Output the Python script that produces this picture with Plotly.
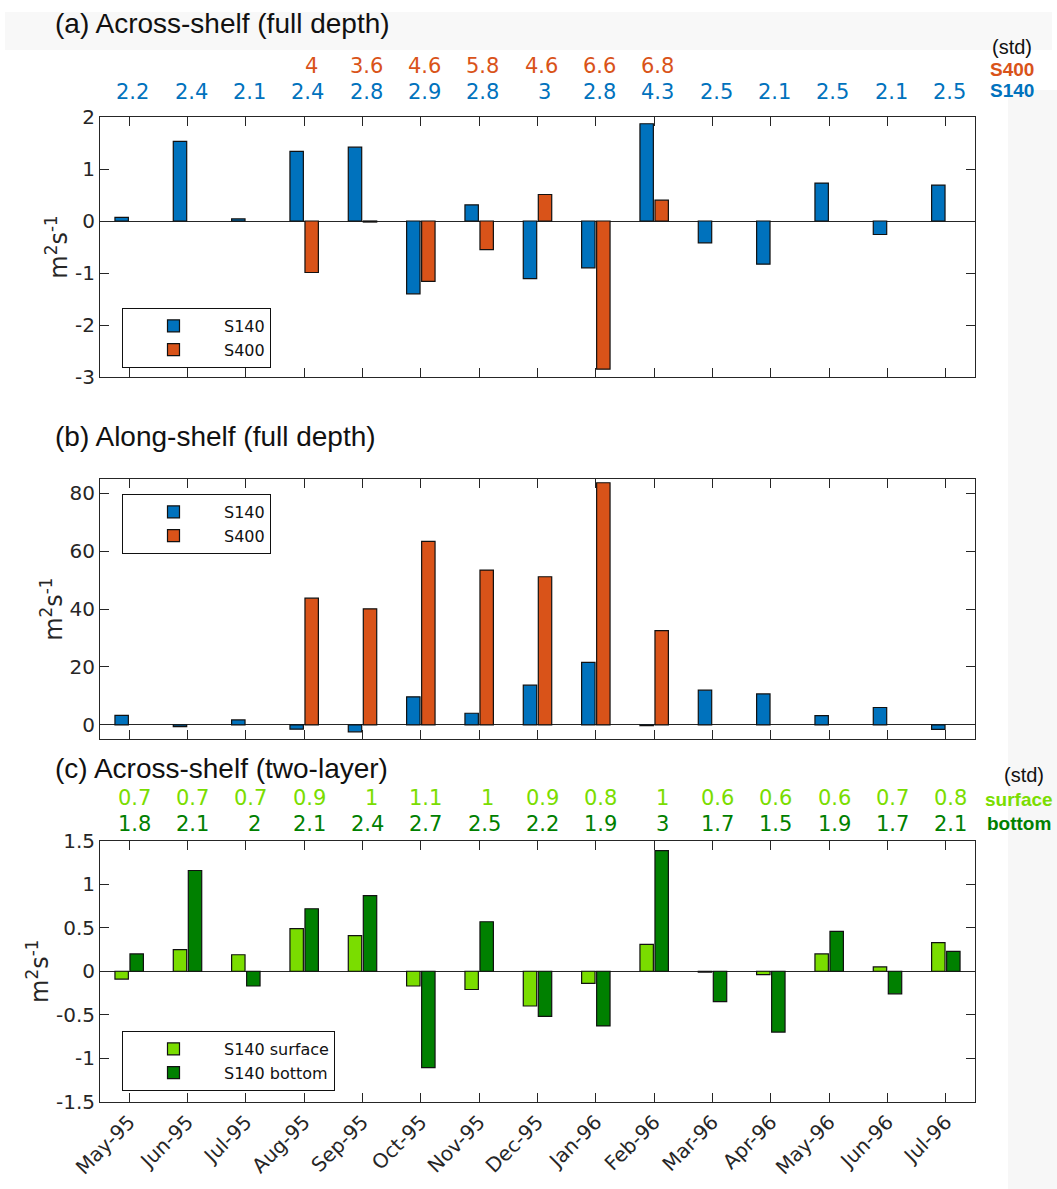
import plotly.graph_objects as go

months = ["May-95", "Jun-95", "Jul-95", "Aug-95", "Sep-95", "Oct-95", "Nov-95", "Dec-95",
          "Jan-96", "Feb-96", "Mar-96", "Apr-96", "May-96", "Jun-96", "Jul-96"]

# (a) across-shelf, full depth
a_s140 = [0.07, 1.53, 0.04, 1.34, 1.42, -1.40, 0.31, -1.11, -0.90, 1.87, -0.42, -0.83, 0.73, -0.26, 0.69]
a_s400 = [None, None, None, -0.99, -0.02, -1.16, -0.55, 0.51, -2.85, 0.40, None, None, None, None, None]
a_std_s140 = [2.2, 2.4, 2.1, 2.4, 2.8, 2.9, 2.8, 3, 2.8, 4.3, 2.5, 2.1, 2.5, 2.1, 2.5]
a_std_s400 = [None, None, None, 4, 3.6, 4.6, 5.8, 4.6, 6.6, 6.8, None, None, None, None, None]

# (b) along-shelf, full depth
b_s140 = [3.3, -0.6, 1.7, -1.5, -2.4, 9.7, 4.0, 13.7, 21.6, -0.3, 12.0, 10.7, 3.2, 6.0, -1.6]
b_s400 = [None, None, None, 43.8, 40.1, 63.4, 53.5, 51.2, 83.7, 32.6, None, None, None, None, None]

# (c) across-shelf, two-layer
c_surf = [-0.09, 0.25, 0.19, 0.49, 0.41, -0.17, -0.21, -0.40, -0.14, 0.31, -0.01, -0.04, 0.20, 0.05, 0.33]
c_bot = [0.20, 1.16, -0.17, 0.72, 0.87, -1.11, 0.57, -0.52, -0.63, 1.39, -0.35, -0.70, 0.46, -0.26, 0.23]
c_std_surf = [0.7, 0.7, 0.7, 0.9, 1, 1.1, 1, 0.9, 0.8, 1, 0.6, 0.6, 0.6, 0.7, 0.8]
c_std_bot = [1.8, 2.1, 2, 2.1, 2.4, 2.7, 2.5, 2.2, 1.9, 3, 1.7, 1.5, 1.9, 1.7, 2.1]

ya_ticks = [-3, -2, -1, 0, 1, 2]
yb_ticks = [0, 20, 40, 60, 80]
yc_ticks = [-1.5, -1, -0.5, 0, 0.5, 1, 1.5]

BLUE = "#0072BD"
ORANGE = "#D95319"
LGREEN = "#7ADD00"
DGREEN = "#008000"
AXC = "#262626"

W, H = 1057, 1189
def px(x):
    return x / W
def py(y):
    return 1 - y / H

def lab(v):
    return "%g" % v

fig = go.Figure()
bar_line = dict(color="#111111", width=1.2)

fig.add_trace(go.Bar(x=months, y=a_s140, name="S140", marker=dict(color=BLUE, line=bar_line),
                     xaxis="x", yaxis="y", legend="legend"))
fig.add_trace(go.Bar(x=months, y=a_s400, name="S400", marker=dict(color=ORANGE, line=bar_line),
                     xaxis="x", yaxis="y", legend="legend"))
fig.add_trace(go.Bar(x=months, y=b_s140, name="S140", marker=dict(color=BLUE, line=bar_line),
                     xaxis="x2", yaxis="y2", legend="legend2"))
fig.add_trace(go.Bar(x=months, y=b_s400, name="S400", marker=dict(color=ORANGE, line=bar_line),
                     xaxis="x2", yaxis="y2", legend="legend2"))
fig.add_trace(go.Bar(x=months, y=c_surf, name="S140 surface", marker=dict(color=LGREEN, line=bar_line),
                     xaxis="x3", yaxis="y3", legend="legend3"))
fig.add_trace(go.Bar(x=months, y=c_bot, name="S140 bottom", marker=dict(color=DGREEN, line=bar_line),
                     xaxis="x3", yaxis="y3", legend="legend3"))

xdom = [px(100), px(975)]
common_x = dict(domain=xdom, range=[-0.5, 14.5], type="category", showline=True, linecolor=AXC,
                linewidth=1, mirror="ticks", ticks="inside", ticklen=9, tickcolor=AXC,
                showgrid=False, automargin=False)
common_y = dict(showline=True, linecolor=AXC, linewidth=1, mirror="ticks", ticks="inside",
                ticklen=9, tickcolor=AXC, showgrid=False, zeroline=True, zerolinecolor=AXC,
                zerolinewidth=1, automargin=False,
                tickfont=dict(family="DejaVu Sans", size=20, color=AXC),
                title=dict(text="m<sup>2</sup>s<sup>-1</sup>",
                           font=dict(family="DejaVu Sans", size=24, color=AXC), standoff=0))

fig.update_layout(
    xaxis=dict(common_x, anchor="y", showticklabels=False),
    xaxis2=dict(common_x, anchor="y2", showticklabels=False),
    xaxis3=dict(common_x, anchor="y3", showticklabels=True, tickangle=-45,
                tickfont=dict(family="DejaVu Sans", size=20, color=AXC)),
    yaxis=dict(common_y, anchor="x", domain=[py(377), py(117)], range=[-3, 2],
               tickvals=ya_ticks, ticktext=[lab(v) for v in ya_ticks]),
    yaxis2=dict(common_y, anchor="x2", domain=[py(739.3), py(479)], range=[-5, 85],
                tickvals=yb_ticks, ticktext=[lab(v) for v in yb_ticks]),
    yaxis3=dict(common_y, anchor="x3", domain=[py(1101.5), py(841)], range=[-1.5, 1.5],
                tickvals=yc_ticks, ticktext=[lab(v) for v in yc_ticks]),
    barmode="group", bargap=0.485, bargroupgap=0.107,
    width=W, height=H, margin=dict(l=0, r=0, t=0, b=0),
    paper_bgcolor="white", plot_bgcolor="white",
    showlegend=True,
)

leg_common = dict(bgcolor="white", bordercolor="#111111", borderwidth=1,
                  font=dict(family="DejaVu Sans", size=16, color="#111111"),
                  xanchor="left", yanchor="top", itemwidth=91, tracegroupgap=0,
                  traceorder="normal")
fig.update_layout(
    legend=dict(leg_common, x=px(122), y=py(308)),
    legend2=dict(leg_common, x=px(122), y=py(494)),
    legend3=dict(leg_common, x=px(122), y=py(1031)),
)

# background bands
fig.add_shape(type="rect", xref="paper", yref="paper", x0=px(5), x1=px(1052), y0=py(50), y1=py(12),
              fillcolor="#f8f8f8", line_width=0, layer="below")
fig.add_shape(type="rect", xref="paper", yref="paper", x0=px(1008), x1=1, y0=0, y1=py(90),
              fillcolor="#f7f7f7", line_width=0, layer="below")

ann = []
TF = "Liberation Sans, Arial, sans-serif"
for t, yy in [("(a) Across-shelf (full depth)", 24), ("(b) Along-shelf (full depth)", 436),
              ("(c) Across-shelf (two-layer)", 768)]:
    ann.append(dict(text=t, xref="paper", yref="paper", x=px(53), y=py(yy), xanchor="left",
                    yanchor="middle", showarrow=False, font=dict(family=TF, size=28, color="#111111")))

def std_row(vals, xref, ypix, color, base):
    for m, v in zip(months, vals):
        if v is None:
            continue
        s = lab(v)
        shift = base + (3.5 if len(s) == 1 else 0)
        ann.append(dict(text=s, xref=xref, yref="paper", x=m, y=py(ypix), xanchor="center",
                        yanchor="middle", xshift=shift, showarrow=False,
                        font=dict(family="DejaVu Sans", size=21, color=color)))

std_row(a_std_s400, "x", 65.5, ORANGE, 3.5)
std_row(a_std_s140, "x", 91.5, BLUE, 3.5)
std_row(c_std_surf, "x3", 798, LGREEN, 5)
std_row(c_std_bot, "x3", 824, DGREEN, 5)

def side(text, xpix, ypix, color, bold=False):
    ann.append(dict(text=("<b>%s</b>" % text) if bold else text, xref="paper", yref="paper",
                    x=px(xpix), y=py(ypix), xanchor="center", yanchor="middle", showarrow=False,
                    font=dict(family=TF, size=20 if not bold else 19, color=color)))

side("(std)", 1012, 47, "#111111")
side("S400", 1012, 69.5, ORANGE, True)
side("S140", 1012, 90.5, BLUE, True)
side("(std)", 1024, 775, "#111111")
side("surface", 1019, 799, LGREEN, True)
side("bottom", 1019, 823, DGREEN, True)

fig.update_layout(annotations=ann)
fig.write_html("out.html")
